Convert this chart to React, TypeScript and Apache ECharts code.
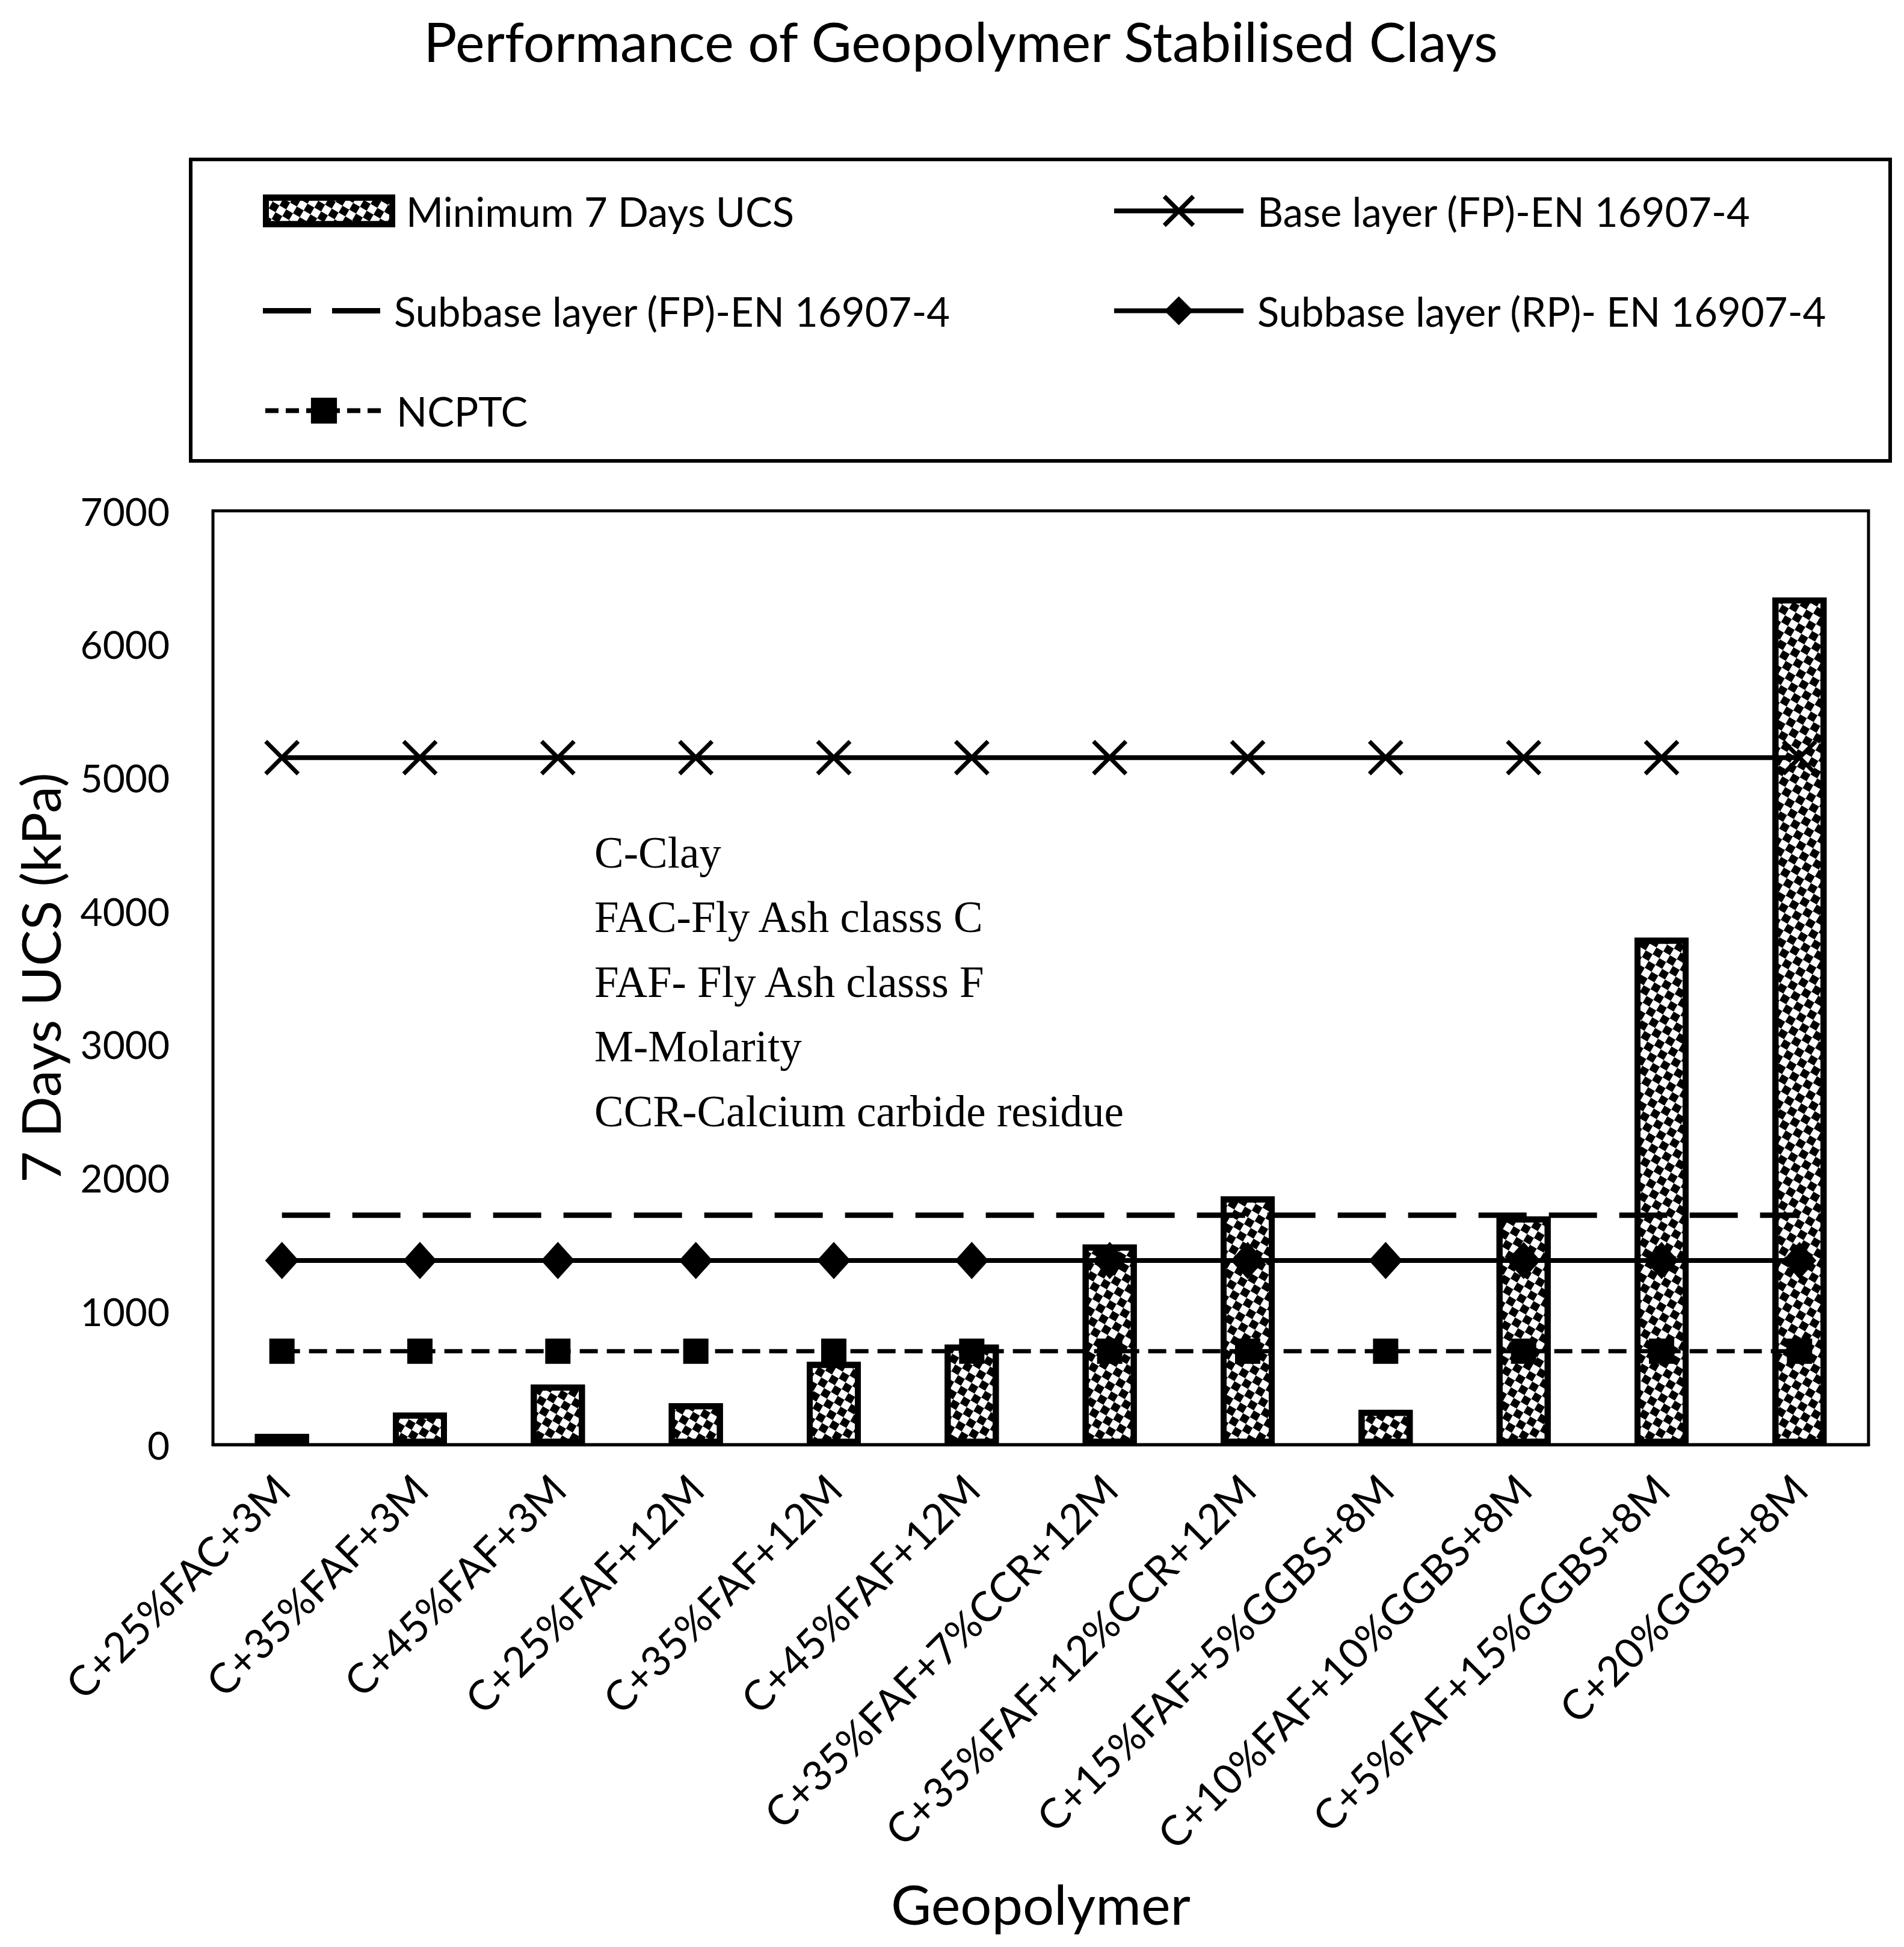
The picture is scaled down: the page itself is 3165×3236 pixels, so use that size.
import React, { useEffect, useRef } from 'react';
import * as echarts from 'echarts';

const TITLE = 'Performance of Geopolymer Stabilised Clays';
const CATEGORIES = [
  'C+25%FAC+3M',
  'C+35%FAF+3M',
  'C+45%FAF+3M',
  'C+25%FAF+12M',
  'C+35%FAF+12M',
  'C+45%FAF+12M',
  'C+35%FAF+7%CCR+12M',
  'C+35%FAF+12%CCR+12M',
  'C+15%FAF+5%GGBS+8M',
  'C+10%FAF+10%GGBS+8M',
  'C+5%FAF+15%GGBS+8M',
  'C+20%GGBS+8M',
];
const SERIES_NAMES = [
  'Minimum 7 Days UCS',
  'Base layer (FP)-EN 16907-4',
  'Subbase layer (FP)-EN 16907-4',
  'Subbase layer (RP)- EN 16907-4',
  'NCPTC',
];
const UCS_MIN = [80, 240, 450, 310, 620, 750, 1500, 1860, 260, 1710, 3800, 6350];
const BASE_FP = [5150, 5150, 5150, 5150, 5150, 5150, 5150, 5150, 5150, 5150, 5150, 5150];
const SUBBASE_FP = [1720, 1720, 1720, 1720, 1720, 1720, 1720, 1720, 1720, 1720, 1720, 1720];
const SUBBASE_RP = [1380, 1380, 1380, 1380, 1380, 1380, 1380, 1380, 1380, 1380, 1380, 1380];
const NCPTC = [700, 700, 700, 700, 700, 700, 700, 700, 700, 700, 700, 700];
const Y_MIN = 0;
const Y_MAX = 7000;
const Y_STEP = 1000;
const NOTES = [
  'C-Clay',
  'FAC-Fly Ash classs C',
  'FAF- Fly Ash classs F',
  'M-Molarity',
  'CCR-Calcium carbide residue',
];

const SANS = 'Lato';
const SERIF = 'Liberation Serif';

export default function App() {
  const ref = useRef<HTMLDivElement>(null);

  useEffect(() => {
    document.body.style.margin = '0';
    const chart = echarts.init(ref.current as HTMLDivElement, null, { renderer: 'svg' });

    const legendText = {
      fontFamily: SANS,
      fontSize: 67,
      color: '#000',
      lineHeight: 60,
      padding: [0, 0, 0, 18],
    };
    const legendCommon = {
      orient: 'horizontal',
      padding: 0,
      selectedMode: false,
      textStyle: legendText,
    };

    chart.setOption({
      animation: false,
      backgroundColor: '#fff',
      aria: { enabled: true, decal: { show: true } },
      grid: {
        left: 354,
        right: 59,
        top: 849,
        bottom: 835,
        show: true,
        borderColor: '#000',
        borderWidth: 5,
        backgroundColor: 'transparent',
      },
      legend: [
        {
          ...legendCommon,
          data: [SERIES_NAMES[0]],
          left: 437,
          top: 317,
          itemWidth: 210,
          itemHeight: 44,
          icon: 'rect',
          itemStyle: { borderColor: '#000', borderWidth: 10 },
        },
        {
          ...legendCommon,
          data: [SERIES_NAMES[1]],
          left: 1848,
          top: 317,
          itemWidth: 215,
          itemHeight: 60,
          itemStyle: { color: '#000', borderColor: '#000', borderWidth: 7 },
          lineStyle: { color: '#000', width: 8 },
        },
        {
          ...legendCommon,
          data: [SERIES_NAMES[2]],
          left: 437,
          top: 483,
          itemWidth: 195,
          itemHeight: 9,
          icon: 'path://M0,0H80V9H0Z M115,0H195V9H115Z',
        },
        {
          ...legendCommon,
          data: [SERIES_NAMES[3]],
          left: 1848,
          top: 483,
          itemWidth: 215,
          itemHeight: 60,
          lineStyle: { color: '#000', width: 8 },
        },
        {
          ...legendCommon,
          data: [SERIES_NAMES[4]],
          left: 437,
          top: 649,
          itemWidth: 195,
          itemHeight: 54,
          lineStyle: { color: '#000', width: 8, type: [22, 12] },
        },
      ],
      graphic: [
        {
          type: 'rect',
          silent: true,
          shape: { x: 317, y: 265, width: 2825, height: 501 },
          style: { fill: 'none', stroke: '#000', lineWidth: 6 },
        },
        {
          type: 'text',
          silent: true,
          x: 1597,
          y: 67,
          style: {
            text: TITLE,
            fontFamily: SANS,
            fontSize: 92,
            fill: '#000',
            align: 'center',
            verticalAlign: 'middle',
          },
        },
        ...NOTES.map((t, i) => ({
          type: 'text',
          silent: true,
          x: 988,
          y: 1417 + i * 107.5,
          style: {
            text: t,
            fontFamily: SERIF,
            fontSize: 73,
            fill: '#000',
            align: 'left',
            verticalAlign: 'middle',
          },
        })),
      ],
      xAxis: {
        type: 'category',
        data: CATEGORIES,
        boundaryGap: true,
        axisLine: { show: true, lineStyle: { color: '#000', width: 5 } },
        axisTick: { show: false },
        splitLine: { show: false },
        axisLabel: {
          interval: 0,
          rotate: 45,
          fontFamily: SANS,
          fontSize: 69,
          color: '#000',
          margin: 61,
          padding: [88, 0, 0, 0],
        },
        name: 'Geopolymer',
        nameLocation: 'middle',
        nameGap: 716,
        nameTextStyle: { fontFamily: SANS, fontSize: 92, color: '#000' },
      },
      yAxis: {
        type: 'value',
        min: Y_MIN,
        max: Y_MAX,
        interval: Y_STEP,
        axisLine: { show: false },
        axisTick: { show: false },
        splitLine: { show: false },
        axisLabel: {
          fontFamily: SANS,
          fontSize: 64,
          color: '#000',
          margin: 72,
          formatter: (v: number) => String(v),
        },
        name: '7 Days UCS (kPa)',
        nameLocation: 'middle',
        nameRotate: 90,
        nameGap: 243,
        nameTextStyle: { fontFamily: SANS, fontSize: 90, color: '#000' },
      },
      series: [
        {
          name: SERIES_NAMES[0],
          type: 'bar',
          data: UCS_MIN,
          barWidth: 90,
          z: 2,
          itemStyle: {
            color: '#fff',
            borderColor: '#000',
            borderWidth: 10,
            decal: {
              symbol: 'rect',
              symbolSize: 1,
              dashArrayX: [
                [13, 13],
                [0, 13, 13, 0],
              ],
              dashArrayY: [13, 0],
              color: '#000',
            },
          },
        },
        {
          name: SERIES_NAMES[1],
          type: 'line',
          data: BASE_FP,
          z: 3,
          symbol: 'path://M0,0L10,10M10,0L0,10',
          symbolSize: 54,
          showAllSymbol: true,
          lineStyle: { color: '#000', width: 8, type: 'solid' },
          itemStyle: { color: '#000', borderColor: '#000', borderWidth: 7, decal: 'none' },
        },
        {
          name: SERIES_NAMES[2],
          type: 'line',
          data: SUBBASE_FP,
          z: 3,
          symbol: 'none',
          lineStyle: { color: '#000', width: 9, type: [80, 37] },
          itemStyle: { color: '#000', decal: 'none' },
        },
        {
          name: SERIES_NAMES[3],
          type: 'line',
          data: SUBBASE_RP,
          z: 3,
          symbol: 'diamond',
          symbolSize: [56, 62],
          showAllSymbol: true,
          lineStyle: { color: '#000', width: 8, type: 'solid' },
          itemStyle: { color: '#000', decal: 'none' },
        },
        {
          name: SERIES_NAMES[4],
          type: 'line',
          data: NCPTC,
          z: 3,
          symbol: 'rect',
          symbolSize: 42,
          showAllSymbol: true,
          lineStyle: { color: '#000', width: 7, type: [30, 15] },
          itemStyle: { color: '#000', decal: 'none' },
        },
      ],
    });

    return () => {
      chart.dispose();
    };
  }, []);

  return <div ref={ref} style={{ width: 3165, height: 3236, background: '#fff' }} />;
}
